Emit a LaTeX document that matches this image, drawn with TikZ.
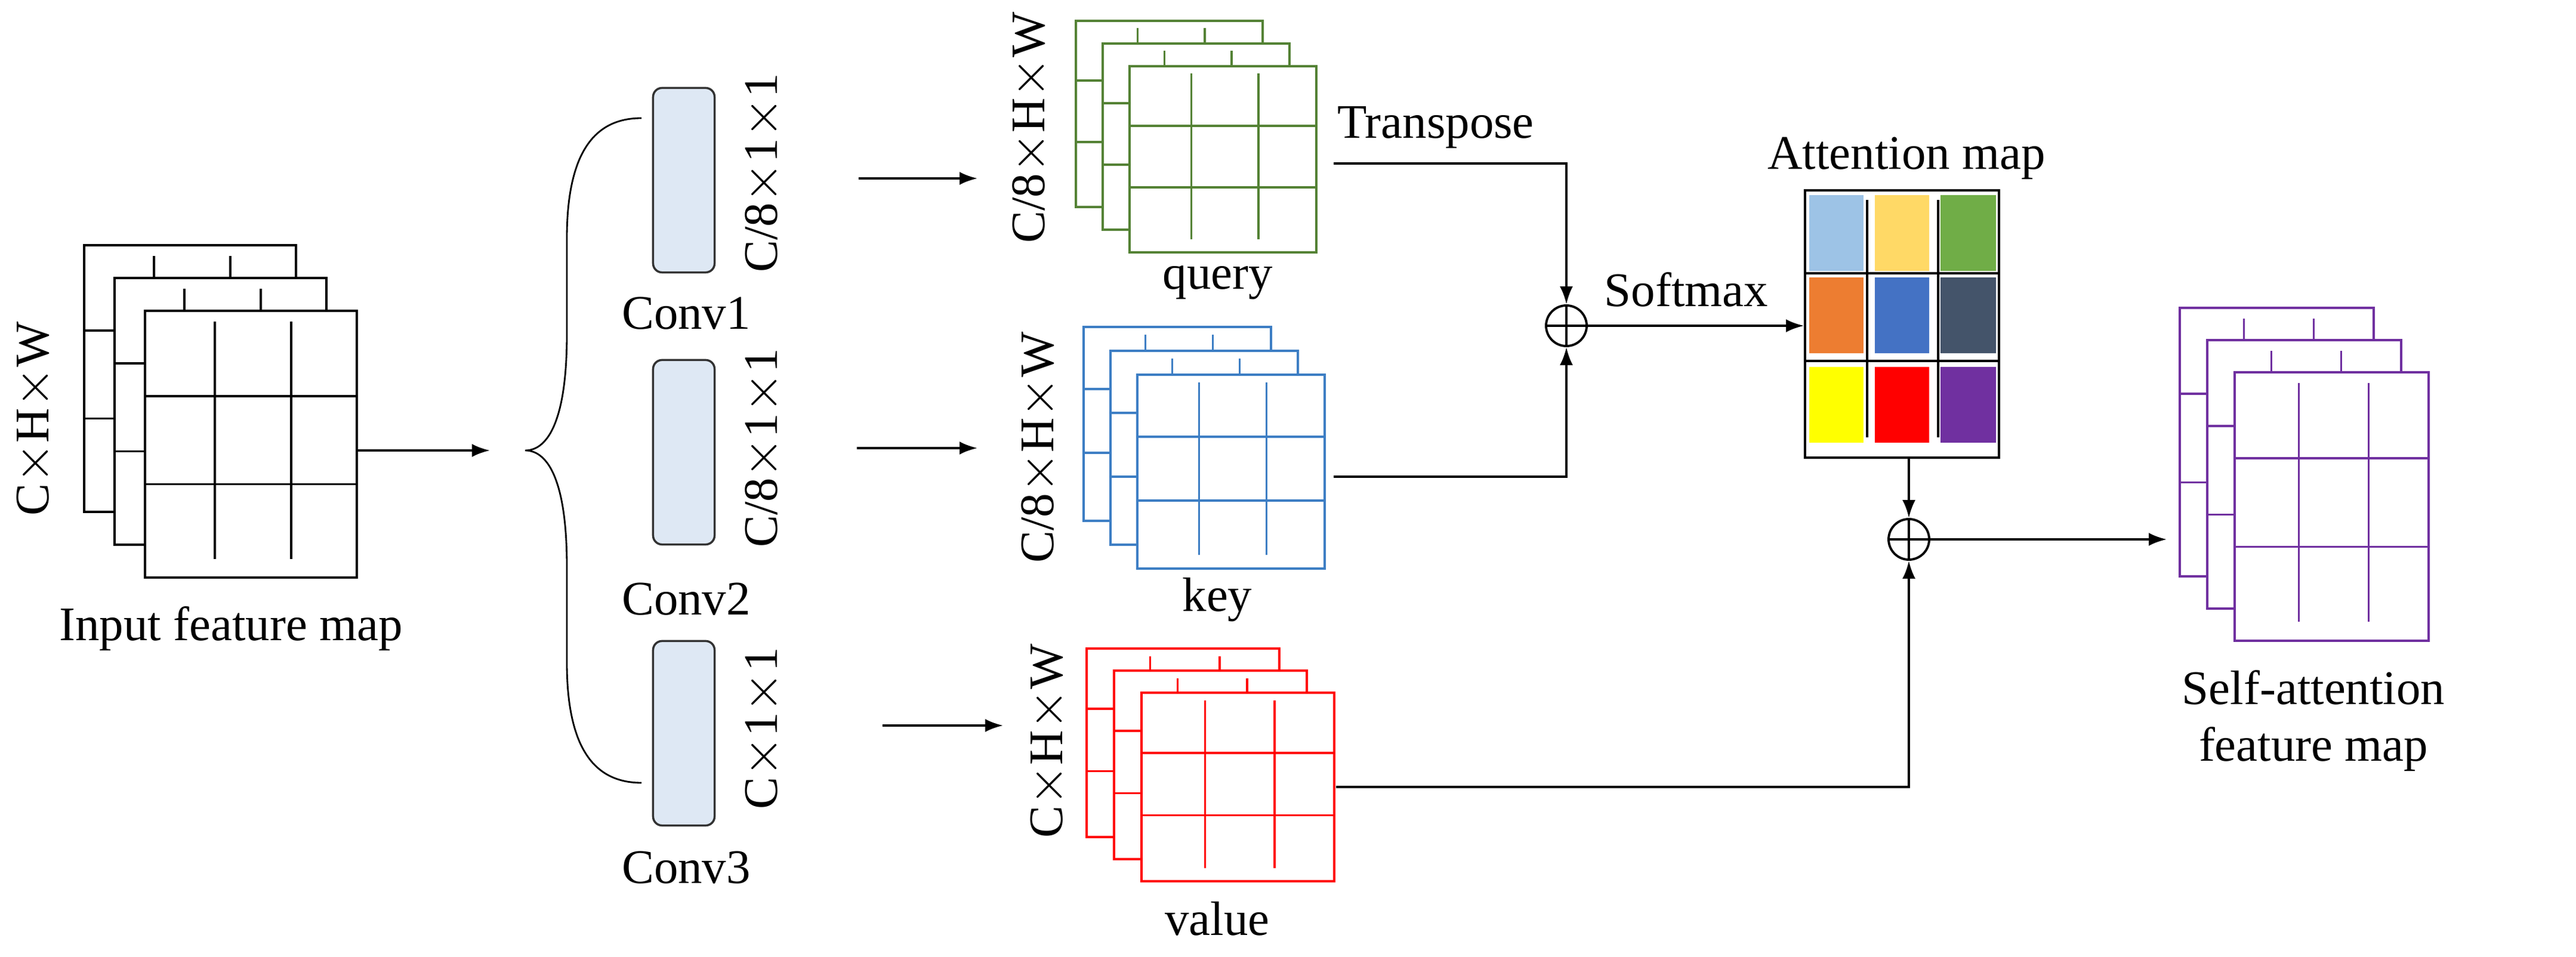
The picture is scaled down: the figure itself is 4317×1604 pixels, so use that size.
\documentclass[tikz,border=0pt]{standalone}
\usepackage{fontspec}
\setmainfont{Liberation Serif}
\newfontfamily\tnr{Liberation Serif}
\usetikzlibrary{arrows.meta}
\definecolor{qgreen}{HTML}{548235}
\definecolor{kblue}{HTML}{3D7EC4}
\definecolor{vred}{HTML}{FF0000}
\definecolor{opurp}{HTML}{7030A0}
\definecolor{convfill}{HTML}{DEE8F4}
\definecolor{ca}{HTML}{9DC3E6}
\definecolor{cb}{HTML}{FFD966}
\definecolor{cc}{HTML}{70AD47}
\definecolor{cd}{HTML}{ED7D31}
\definecolor{ce}{HTML}{4472C4}
\definecolor{cf}{HTML}{44546A}
\definecolor{cg}{HTML}{FFFF00}
\definecolor{ch}{HTML}{FF0000}
\definecolor{ci}{HTML}{7030A0}
\newcommand\fstack[8]{%
  \foreach \k in {2,1,0}{%
    \pgfmathsetmacro\sx{#2-\k*#6}\pgfmathsetmacro\sy{#3-\k*#7}%
    \draw[stk,#8,fill=white] (\sx,\sy) rectangle ++(#4,#5);
    \draw[stk,#8] (\sx,\sy+0.32*#5) -- ++(#4,0) (\sx,\sy+0.65*#5) -- ++(#4,0)
      (\sx+0.33*#4,\sy+0.04*#5) -- ++(0,0.89*#5) (\sx+0.69*#4,\sy+0.04*#5) -- ++(0,0.89*#5);
  }
  \node[inner sep=0,minimum width=#4*0.01cm,minimum height=#5*0.01cm,anchor=north west] (#1) at (#2,#3) {};
}
\begin{document}
\begin{tikzpicture}[x=0.01cm,y=-0.01cm,
  every node/.style={font=\tnr\fontsize{23}{27}\selectfont},
  stk/.style={line width=1pt},
  con/.style={line width=1.1pt},
  arr/.style={con,-{Latex[length=0.3cm,width=0.22cm]}},
  conv/.style={draw=black!80,fill=convfill,line width=1pt,rounded corners=0.15cm,minimum width=1.03cm,minimum height=3.09cm,inner sep=0},
  plus/.style={circle,draw,line width=1.1pt,minimum size=0.68cm,inner sep=0}]
\useasboundingbox (0,0) rectangle (4317,1604);
% input
\fstack{inmap}{243}{521}{355}{447}{51}{55}{black}
\node[rotate=90] (lin) at (58,702) {C$\times$H$\times$W};
\node (tin) at (387,1054) {Input feature map};
\coordinate (bt) at (821,755);
\draw[arr] (inmap.east |- bt) -- (bt);
\coordinate (btip) at (880,755);
\draw[con,line width=0.8pt] (1075,198) .. controls (1000,198) and (950,250) .. (950,400) -- (950,560) .. controls (950,700) and (920,755) .. (btip)
  .. controls (920,755) and (950,810) .. (950,950) -- (950,1110) .. controls (950,1260) and (1000,1312) .. (1075,1312);
% convs
\node[conv] (c1) at (1146,302) {};
\node[conv] (c2) at (1146,758) {};
\node[conv] (c3) at (1146,1229) {};
\node (t1) at (1150,525) {Conv1};
\node (t2) at (1150,1004) {Conv2};
\node (t3) at (1150,1454) {Conv3};
\node[rotate=90] (l1) at (1279,290) {C/8$\times$1$\times$1};
\node[rotate=90] (l2) at (1279,751) {C/8$\times$1$\times$1};
\node[rotate=90] (l3) at (1279,1221) {C$\times$1$\times$1};
\coordinate (a1s) at (1439,299); \coordinate (a1e) at (1638,299);
\coordinate (a2s) at (1436,751); \coordinate (a2e) at (1638,751);
\coordinate (a3s) at (1479,1216); \coordinate (a3e) at (1681,1216);
\draw[arr] (a1s) -- (a1e);
\draw[arr] (a2s) -- (a2e);
\draw[arr] (a3s) -- (a3e);
% q k v
\fstack{query}{1893}{111}{313}{312}{45}{38}{qgreen}
\fstack{key}{1906}{628}{314}{325}{45}{40}{kblue}
\fstack{value}{1913}{1161}{323}{316}{46}{37}{vred}
\node[rotate=90] (lq) at (1727,214) {C/8$\times$H$\times$W};
\node[rotate=90] (lk) at (1742,750) {C/8$\times$H$\times$W};
\node[rotate=90] (lv) at (1757,1242) {C$\times$H$\times$W};
\node (tq) at (2041,474) {query};
\node (tk) at (2040,1005) {key};
\node (tv) at (2040,1540) {value};
% plus 1
\node[plus] (p1) at (2625,546) {};
\draw[con] (p1.north)--(p1.south) (p1.west)--(p1.east);
\coordinate (qo) at (2235,274);
\coordinate (ko) at (2235,799);
\draw[arr] (qo) -| (p1.north);
\draw[arr] (ko) -| (p1.south);
\node (ttr) at (2406,214) {Transpose};
\node (tsm) at (2826,485) {Softmax};
% attention map
\node[draw,line width=1pt,inner sep=0,minimum width=3.25cm,minimum height=4.48cm,anchor=north west] (att) at (3023,317) {};
\fill[ca] (3032,327) rectangle (3123,454);
\fill[cb] (3142,327) rectangle (3233,454);
\fill[cc] (3252,327) rectangle (3345,454);
\fill[cd] (3032,465) rectangle (3123,592);
\fill[ce] (3142,465) rectangle (3233,592);
\fill[cf] (3252,465) rectangle (3345,592);
\fill[cg] (3032,615) rectangle (3123,742);
\fill[ch] (3142,615) rectangle (3233,742);
\fill[ci] (3252,615) rectangle (3345,742);
\draw[line width=1pt] (3023,458) -- (3348,458) (3023,605) -- (3348,605)
  (3129,335) -- (3129,733) (3248,335) -- (3248,733);
\node (tatt) at (3195,265) {Attention map};
\draw[arr] (p1.east) -- (att.west |- p1);
% plus 2
\node[plus] (p2) at (3199,904) {};
\draw[con] (p2.north)--(p2.south) (p2.west)--(p2.east);
\draw[arr] (att.south -| p2) -- (p2.north);
\coordinate (vo) at (2239,1319);
\draw[arr] (vo) -| (p2.south);
% output
\fstack{outmap}{3745}{624}{325}{450}{46}{54}{opurp}
\coordinate (oe) at (3631,904);
\draw[arr] (p2.east) -- (oe);
\node[align=center] (tout) at (3877,1208) {Self-attention\\feature map};
\end{tikzpicture}
\end{document}
